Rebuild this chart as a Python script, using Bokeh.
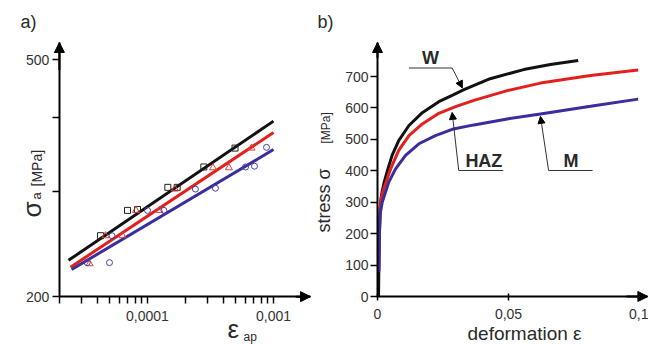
import json
import math
import numpy as np
from bokeh.plotting import figure
from bokeh.layouts import row
from bokeh.models import (FixedTicker, CustomJSTickFormatter, Label, Arrow,
                          NormalHead, Range1d)
from bokeh.embed import file_html
from bokeh.resources import INLINE

# ---------------- panel a) data : stress amplitude vs strain amplitude ----------
w_eps_a = [4.24e-5, 6.94e-5, 8.33e-5, 1.45e-4, 1.72e-4, 2.80e-4, 4.95e-4]
w_sig_a = [253, 279, 280, 305, 305, 330, 355]
haz_eps_a = [3.47e-5, 4.64e-5, 6.33e-5, 8.1e-5, 1.245e-4, 1.65e-4, 3.31e-4, 4.43e-4, 6.69e-4]
haz_sig_a = [227, 253, 253, 279, 279, 303, 329, 329, 355]
m_eps_a = [3.32e-5, 4.99e-5, 5.23e-5, 1.0e-4, 1.35e-4, 2.40e-4, 3.46e-4, 6.0e-4, 7.06e-4, 8.8e-4]
m_sig_a = [228, 228, 253, 279, 279, 303, 304, 330, 331, 356]

w_fit_eps = [2.36e-5, 1.0e-3]
w_fit_sig = [230, 394]
haz_fit_eps = [2.45e-5, 1.0e-3]
haz_fit_sig = [224, 377]
m_fit_eps = [2.5e-5, 1.0e-3]
m_fit_sig = [222, 353]

a_x_ticks = [1e-4, 1e-3]
a_x_labels = ["0,0001", "0,001"]
a_y_ticks = [200, 300, 400, 500]
a_y_labels = ["200", "", "", "500"]

# ---------------- panel b) data : stress-strain curves ---------------------------
w_eps_b = [0.0004, 0.0005, 0.0007, 0.0010, 0.0014, 0.0018, 0.0025, 0.0037, 0.0056,
           0.0081, 0.0120, 0.0171, 0.0234, 0.0285, 0.0330, 0.0430, 0.0558, 0.0660, 0.0766]
w_sig_b = [0, 80, 190, 280, 315, 335, 362, 398, 450, 496, 544, 585, 620, 640, 658,
           693, 722, 738, 751]
haz_eps_b = [0.0005, 0.0007, 0.0010, 0.0014, 0.0024, 0.0050, 0.0081, 0.0120, 0.0171,
             0.0234, 0.0298, 0.0368, 0.0495, 0.0622, 0.0813, 0.0995]
haz_sig_b = [80, 190, 280, 312, 343, 406, 465, 512, 549, 583, 604, 624, 655, 679, 703, 721]
m_eps_b = [0.0005, 0.0007, 0.0010, 0.0018, 0.0043, 0.0069, 0.0107, 0.0158, 0.0221,
           0.0285, 0.0368, 0.0495, 0.0622, 0.0813, 0.0995]
m_sig_b = [80, 190, 262, 300, 364, 406, 449, 486, 512, 532, 546, 565, 581, 605, 628]

b_x_ticks = [0, 0.05, 0.1]
b_x_labels = ["0", "0,05", "0,1"]
b_y_ticks = [0, 100, 200, 300, 400, 500, 600, 700]
b_y_labels = ["0", "100", "200", "300", "400", "500", "600", "700"]

# ---------------- styles / layout -----------------------------------------------
FONT = "Liberation Sans"
TXT = "#2a2a2a"
BLACK = "#111111"
RED = "#e3201b"
BLUE = "#3a2d9c"

H = 344            # canvas height of both panels
WA, WB = 312, 336  # canvas widths (left panel + right panel = 648)
OFF_B = -WA        # right canvas x = page x - WA
MID = 0.35         # distance baseline -> middle of text, in font sizes


def fmt(vals, labels):
    code = ("const v = %s; const l = %s;"
            "for (let i = 0; i < v.length; i++) {"
            "  if (Math.abs(tick - v[i]) <= 1e-6 * Math.abs(v[i]) + 1e-12) return l[i];"
            "}"
            "return '';") % (json.dumps(vals), json.dumps(labels))
    return CustomJSTickFormatter(code=code)


def style_axis(ax, ticks, labels, minor=None, tick_out=7, tick_in=0, standoff=4):
    ax.ticker = FixedTicker(ticks=ticks, minor_ticks=minor or [])
    ax.formatter = fmt(ticks, labels)
    ax.axis_line_width = 2
    ax.axis_line_color = "black"
    ax.major_tick_line_color = "black"
    ax.major_tick_line_width = 1.5
    ax.major_tick_out = tick_out
    ax.major_tick_in = tick_in
    ax.minor_tick_line_color = "black"
    ax.minor_tick_line_width = 1.5
    ax.minor_tick_out = tick_out
    ax.minor_tick_in = 0
    ax.major_label_text_font = FONT
    ax.major_label_text_font_size = "14px"
    ax.major_label_text_color = "#333"
    ax.major_label_standoff = standoff


def htext(p, x, base_y, text, fs, bold=False, align="left"):
    """horizontal text; x, base_y = canvas pixels (y downwards) of the baseline"""
    p.add_layout(Label(x=x, y=H - (base_y - MID * fs), x_units="screen", y_units="screen",
                       text=text, text_font=FONT, text_font_size="%dpx" % fs,
                       text_font_style="bold" if bold else "normal", text_color=TXT,
                       text_align=align, text_baseline="middle"))


def vtext(p, base_x, start_y, text, fs):
    """text reading upwards; base_x = canvas x of the baseline, start_y = canvas y of start"""
    p.add_layout(Label(x=base_x - MID * fs, y=H - start_y, x_units="screen", y_units="screen",
                       text=text, text_font=FONT, text_font_size="%dpx" % fs,
                       text_color=TXT, angle=90, angle_units="deg",
                       text_align="left", text_baseline="middle"))


def dtext(p, x, y, text, fs, bold=True):
    """text centred at a data position"""
    p.add_layout(Label(x=x, y=y, text=text, text_font=FONT, text_font_size="%dpx" % fs,
                       text_font_style="bold" if bold else "normal", text_color=TXT,
                       text_align="center", text_baseline="middle"))


def rng(v0, c0, ppu, size, log=False, flip=False):
    """range so that value v0 sits at canvas pixel c0 with ppu pixels per unit/decade"""
    a = math.log10(v0) if log else v0
    if flip:   # vertical: canvas y grows downwards
        lo, hi = a - (size - c0) / ppu, a + c0 / ppu
    else:
        lo, hi = a - c0 / ppu, a + (size - c0) / ppu
    if log:
        lo, hi = 10 ** lo, 10 ** hi
    return Range1d(lo, hi)


# =============================== panel a) ======================================
xr_a = rng(1e-4, 147, 126, WA, log=True)
yr_a = rng(200, 296, 237 / math.log10(2.5), H, log=True, flip=True)
pa = figure(width=WA, height=H, x_axis_type="log", y_axis_type="log",
            x_range=xr_a, y_range=yr_a, output_backend="svg", toolbar_location=None,
            min_border_left=0, min_border_right=0, min_border_top=0, min_border_bottom=0)
pa.outline_line_color = None
pa.grid.visible = False

A_X0, A_X1, A_Y0, A_Y1 = 1.999e-5, 1.967e-3, 199.9, 534
minor_a = [m * 10.0 ** e for e in (-5, -4) for m in range(2, 10)]
xa, ya = pa.xaxis[0], pa.yaxis[0]
style_axis(xa, a_x_ticks, a_x_labels, minor=minor_a, tick_out=7, standoff=7)
style_axis(ya, a_y_ticks, a_y_labels, tick_out=7, standoff=3)
xa.fixed_location = A_Y0
xa.bounds = (A_X0, A_X1)
ya.fixed_location = A_X0
ya.bounds = (A_Y0, A_Y1)

pa.line(w_fit_eps, w_fit_sig, line_color=BLACK, line_width=3)
pa.line(haz_fit_eps, haz_fit_sig, line_color=RED, line_width=3)
pa.line(m_fit_eps, m_fit_sig, line_color=BLUE, line_width=3)

pa.scatter(w_eps_a, w_sig_a, marker="square", size=6, fill_color=None,
           line_color="#222", line_width=1)
pa.scatter(haz_eps_a, haz_sig_a, marker="triangle", size=7, fill_color=None,
           line_color="#e0403a", line_width=1)
pa.scatter(m_eps_a, m_sig_a, marker="circle", size=6, fill_color=None,
           line_color="#4040b0", line_width=1)

head = dict(size=10, fill_color="black", line_color="black", line_width=1)
pa.add_layout(Arrow(end=NormalHead(**head), x_start=1.5e-3, y_start=A_Y0,
                    x_end=A_X1, y_end=A_Y0, line_width=2, line_color="black"))
pa.add_layout(Arrow(end=NormalHead(**head), x_start=A_X0, y_start=480,
                    x_end=A_X0, y_end=A_Y1, line_width=2, line_color="black"))

htext(pa, 20, 28, "a)", 18)
vtext(pa, 41, 217, "σ", 26)
vtext(pa, 41, 199, "a", 13)
vtext(pa, 41, 186, "[MPa]", 14)
htext(pa, 227, 338, "ε", 26)
htext(pa, 243, 341, "ap", 12)

# =============================== panel b) ======================================
xr_b = rng(0.0, 377 + OFF_B, 2620, WB)
yr_b = rng(0.0, 296, 220 / 700, H, flip=True)
pb = figure(width=WB, height=H, x_range=xr_b, y_range=yr_b,
            output_backend="svg", toolbar_location=None,
            min_border_left=0, min_border_right=0, min_border_top=0, min_border_bottom=0)
pb.outline_line_color = None
pb.grid.visible = False

B_X1, B_Y1 = 0.1032, 808
xb, yb = pb.xaxis[0], pb.yaxis[0]
style_axis(xb, b_x_ticks, b_x_labels, tick_out=4, tick_in=3, standoff=8)
style_axis(yb, b_y_ticks, b_y_labels, tick_out=7, standoff=2)
xb.fixed_location = 0
xb.bounds = (0, B_X1)
yb.fixed_location = 0
yb.bounds = (0, B_Y1)

pb.line(w_eps_b, w_sig_b, line_color=BLACK, line_width=3)
pb.line(haz_eps_b, haz_sig_b, line_color=RED, line_width=3)
pb.line(m_eps_b, m_sig_b, line_color=BLUE, line_width=3)

pb.add_layout(Arrow(end=NormalHead(**head), x_start=0.095, y_start=0,
                    x_end=B_X1, y_end=0, line_width=2, line_color="black"))
pb.add_layout(Arrow(end=NormalHead(**head), x_start=0, y_start=760,
                    x_end=0, y_end=B_Y1, line_width=2, line_color="black"))

# leader annotations (tips taken on the curves)
small = dict(size=7, fill_color="black", line_color="black", line_width=1)
lead = dict(line_width=1, line_color="#333")

w_tip_e = 0.0324
w_tip_s = float(np.interp(w_tip_e, w_eps_b, w_sig_b)) + 8
pb.add_layout(Arrow(end=None, x_start=0.012, y_start=727, x_end=0.0285, y_end=727, **lead))
pb.add_layout(Arrow(end=NormalHead(**small), x_start=0.0285, y_start=727,
                    x_end=w_tip_e, y_end=w_tip_s, **lead))
dtext(pb, 0.0202, 758, "W", 18)

haz_tip_e = 0.0285
haz_tip_s = float(np.interp(haz_tip_e, haz_eps_b, haz_sig_b)) - 14
pb.add_layout(Arrow(end=NormalHead(**small), x_start=0.031, y_start=401,
                    x_end=haz_tip_e, y_end=haz_tip_s, **lead))
pb.add_layout(Arrow(end=None, x_start=0.031, y_start=401, x_end=0.048, y_end=401, **lead))
dtext(pb, 0.0406, 430, "HAZ", 18)

m_tip_e = 0.0622
m_tip_s = float(np.interp(m_tip_e, m_eps_b, m_sig_b)) - 8
pb.add_layout(Arrow(end=NormalHead(**small), x_start=0.0653, y_start=401,
                    x_end=m_tip_e, y_end=m_tip_s, **lead))
pb.add_layout(Arrow(end=None, x_start=0.0653, y_start=401, x_end=0.0821, y_end=401, **lead))
dtext(pb, 0.0739, 430, "M", 18)

htext(pb, 317 + OFF_B, 28, "b)", 18)
vtext(pb, 330 + OFF_B, 232, "stress σ", 18)
vtext(pb, 330 + OFF_B, 143, "[MPa]", 12)
htext(pb, 467 + OFF_B, 340, "deformation ε", 19)

layout = row(pa, pb)
open("out.html", "w").write(file_html(layout, INLINE))
